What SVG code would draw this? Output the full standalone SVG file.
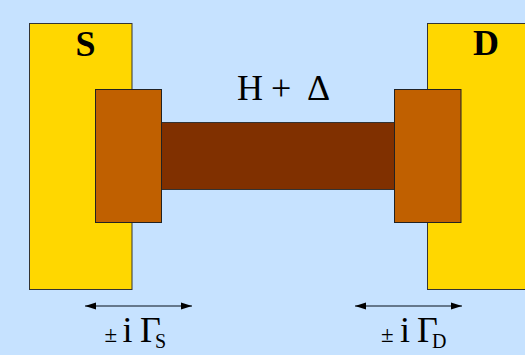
<svg xmlns="http://www.w3.org/2000/svg" width="525" height="355" viewBox="0 0 525 355">
<style>
.t{font-family:"Liberation Serif","Times New Roman",serif;fill:#000}
.lead{fill:#ffd700;stroke:#333;stroke-width:1}
.cont{fill:#c06000;stroke:#222;stroke-width:1}
.arr{stroke:#445566;stroke-width:1.4;fill:none;marker-start:url(#as);marker-end:url(#ae)}
.big{font-size:36px}
.b{font-size:36px;font-weight:bold;text-anchor:middle}
.pm{font-size:23px}
.sub{font-size:20px}
</style>
<defs>
<marker id="ae" markerUnits="userSpaceOnUse" markerWidth="12" markerHeight="8" refX="11" refY="4" orient="auto"><path d="M0 0.500L11 4L0 7.500Z" fill="#000"/></marker>
<marker id="as" markerUnits="userSpaceOnUse" markerWidth="12" markerHeight="8" refX="0" refY="4" orient="auto"><path d="M11 0.500L0 4L11 7.500Z" fill="#000"/></marker>
</defs>
<rect width="525" height="355" fill="#c6e2ff"/>
<g id="source"><rect class="lead" x="29.500" y="23.500" width="102.500" height="266"/><text class="t b" x="85.500" y="56">S</text></g>
<g id="drain"><rect class="lead" x="427.500" y="23.500" width="104" height="266"/><text class="t b" x="486" y="55">D</text></g>
<g id="channel"><rect x="161.500" y="122.500" width="233" height="67" fill="#803000" stroke="#333"/></g>
<g id="contact-left"><rect class="cont" x="95.500" y="89.500" width="66" height="133"/></g>
<g id="contact-right"><rect class="cont" x="394.500" y="89.500" width="66.500" height="133"/></g>
<g id="label-h"><text class="t big" y="100"><tspan x="237">H</tspan><tspan x="271">+</tspan><tspan x="307">Δ</tspan></text></g>
<g id="connectors">
<line class="arr" x1="85" y1="306" x2="192" y2="306"/>
<line class="arr" x1="355" y1="306" x2="462" y2="306"/>
</g>
<g id="label-s"><text class="t big" y="342"><tspan class="pm" x="104.500">±</tspan><tspan x="122.500">i</tspan><tspan x="140">Γ</tspan><tspan class="sub" x="155" y="348">S</tspan></text></g>
<g id="label-d"><text class="t big" y="342"><tspan class="pm" x="381">±</tspan><tspan x="400">i</tspan><tspan x="417">Γ</tspan><tspan class="sub" x="432" y="348">D</tspan></text></g>
</svg>
